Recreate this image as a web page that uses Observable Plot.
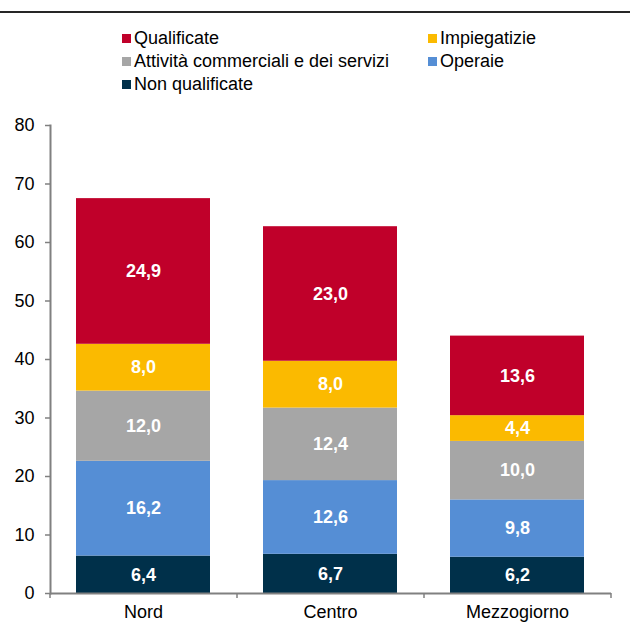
<!DOCTYPE html>
<html>
<head>
<meta charset="utf-8">
<script src="https://cdn.jsdelivr.net/npm/d3@7"></script>
<script src="https://cdn.jsdelivr.net/npm/@observablehq/plot@0.6"></script>
<style>
  html, body { margin: 0; padding: 0; background: #fff; }
  body { width: 630px; font-family: "Liberation Sans", Arial, sans-serif; }
  #head { position: relative; width: 630px; height: 100px; }
  #rule { position: absolute; left: 0; top: 11px; width: 630px; height: 0; border-top: 2px solid #262626; }
  .lg { position: absolute; font-size: 18px; color: #000; line-height: 20px; white-space: nowrap; display: flex; align-items: center; }
  .sw { display: inline-block; width: 9px; height: 9px; margin-right: 3px; }
  svg { display: block; }
</style>
</head>
<body>
<div id="head"><div id="rule"></div></div>
<div id="chart"></div>
<script>
const categories = ["Nord", "Centro", "Mezzogiorno"];
const seriesNames = ["Non qualificate", "Operaie", "Attività commerciali e dei servizi", "Impiegatizie", "Qualificate"];
const seriesColors = ["#00304A", "#558ED5", "#A6A6A6", "#FBBA00", "#C0002A"];
const nonQualificate = [6.4, 6.7, 6.2];
const operaie = [16.2, 12.6, 9.8];
const attivita = [12.0, 12.4, 10.0];
const impiegatizie = [8.0, 8.0, 4.4];
const qualificate = [24.9, 23.0, 13.6];
const yTicks = [0, 10, 20, 30, 40, 50, 60, 70, 80];

// legend order as in reference (row-major, two columns)
const legendOrder = ["Qualificate", "Impiegatizie", "Attività commerciali e dei servizi", "Operaie", "Non qualificate"];

const seriesValues = [nonQualificate, operaie, attivita, impiegatizie, qualificate];
const data = [];
seriesNames.forEach((s, i) => categories.forEach((c, j) => data.push({category: c, series: s, value: seriesValues[i][j]})));

// legend
const head = document.getElementById("head");
const colX = [122, 428];
const rowY = [28, 51, 74];
legendOrder.forEach((name, k) => {
  const el = document.createElement("div");
  el.className = "lg";
  el.style.left = colX[k % 2] + "px";
  el.style.top = rowY[Math.floor(k / 2)] + "px";
  const sw = document.createElement("span");
  sw.className = "sw";
  sw.style.background = seriesColors[seriesNames.indexOf(name)];
  el.appendChild(sw);
  el.appendChild(document.createTextNode(name));
  head.appendChild(el);
});

const W = 630, H = 532, ML = 50, MR = 19, MT = 25, MB = 39;
const step = (W - ML - MR) / categories.length;
const fmt = v => v.toFixed(1).replace(".", ",");

const chart = Plot.plot({
  width: W,
  height: H,
  marginLeft: ML,
  marginRight: MR,
  marginTop: MT,
  marginBottom: MB,
  style: {fontFamily: "'Liberation Sans', Arial, sans-serif", fontSize: "18px", color: "#000", background: "#fff"},
  x: {domain: categories, paddingInner: 0.283, paddingOuter: 0.1415, label: null},
  y: {domain: [0, 80], label: null},
  color: {domain: seriesNames, range: seriesColors},
  marks: [
    Plot.barY(data, {x: "category", y: "value", fill: "series", z: "series", order: seriesNames}),
    Plot.text(data, Plot.stackY({x: "category", y: "value", z: "series", order: seriesNames, text: d => fmt(d.value), fill: "white", fontWeight: "bold", fontSize: 18})),
    Plot.frame({anchor: "left", stroke: "#808080", strokeWidth: 2}),
    Plot.ruleY([0], {stroke: "#808080", strokeWidth: 2}),
    Plot.ruleX(categories, {x: d => d, y1: 0, y2: 0, stroke: "#808080", strokeWidth: 1.5, dx: -step / 2, insetBottom: -5}),
    Plot.ruleX(categories.slice(-1), {x: d => d, y1: 0, y2: 0, stroke: "#808080", strokeWidth: 1.5, dx: step / 2, insetBottom: -5}),
    Plot.axisY({ticks: yTicks, tickSize: 5, tickPadding: 11, stroke: "#808080", strokeWidth: 1.5, fill: "#000", fontSize: 18, tickFormat: d => String(d)}),
    Plot.axisX({tickSize: 0, tickPadding: 12, fill: "#000", fontSize: 18})
  ]
});
document.getElementById("chart").appendChild(chart);
</script>
</body>
</html>
